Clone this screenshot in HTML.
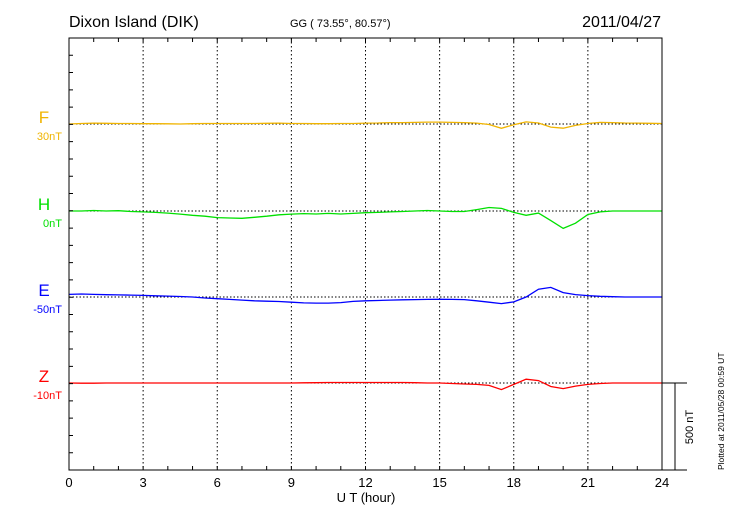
<!DOCTYPE html>
<html><head><meta charset="utf-8"><style>
body{margin:0;background:#fff;}
svg{display:block;font-family:"Liberation Sans",sans-serif;}
</style></head><body>
<svg id="chart" width="730" height="520">
<g id="grid"></g><g id="traces"></g><g id="axes"></g>
<text x="69" y="27" font-size="16">Dixon Island (DIK)</text>
<text x="290" y="27" font-size="11">GG ( 73.55°,  80.57°)</text>
<text x="661" y="27" font-size="16" text-anchor="end">2011/04/27</text>
<text x="366" y="502" font-size="13" text-anchor="middle">U T (hour)</text>
<text transform="translate(693,427) rotate(-90)" font-size="11" text-anchor="middle">500 nT</text>
<text transform="translate(724,470) rotate(-90)" font-size="8.5">Plotted at 2011/05/28 00:59 UT</text>
</svg>
<script>
const hours=[];for(let i=0;i<=48;i++)hours.push(i*0.5);
const xTickLabels=["0","3","6","9","12","15","18","21","24"];
const seriesNames=["F","H","E","Z"];
const offsetLabels=["30nT","0nT","-50nT","-10nT"];
const fValues=[0,3,5,4,3,3,2,2,1,0,2,3,3,3,3,3,4,5,3,3,2,2,3,3,5,6,8,8,9,11,11,9,8,5,-3,-25,-4,12,6,-18,-24,-8,3,9,8,6,5,4,3];
const hValues=[0,0,3,0,2,-3,-5,-8,-12,-18,-25,-30,-38,-40,-42,-36,-30,-22,-18,-15,-17,-14,-17,-14,-10,-8,-5,-3,0,3,0,-3,-3,8,20,15,-8,-25,-12,-55,-100,-70,-20,-5,0,0,0,0,0];
const eValues=[15,17,15,13,12,11,9,7,5,3,0,-6,-10,-14,-18,-22,-24,-26,-30,-34,-35,-35,-32,-25,-22,-20,-18,-16,-15,-14,-13,-14,-15,-22,-30,-38,-28,0,45,55,25,14,8,4,2,0,0,0,0];
const zValues=[0,-1,-1,0,0,0,0,0,0,0,0,0,0,0,0,0,0,0,0,1,2,3,3,3,3,3,3,3,2,0,0,-3,-6,-8,-14,-38,-8,22,14,-20,-32,-18,-8,-3,0,0,0,0,0];
const allSeries=[fValues,hValues,eValues,zValues];
const colors=["#f0b400","#00e000","#0000ff","#ff0000"];
const L=69,R=662,T=38,B=470;
const pxPerNT=(B-383)/500;
const baseY=[124,211,297,383];
const xs=h=>L+(R-L)*h/24;
const ys=(i,v)=>baseY[i]-v*pxPerNT;
const NS="http://www.w3.org/2000/svg";
function mk(p,tag,a){const e=document.createElementNS(NS,tag);for(const k in a)e.setAttribute(k,a[k]);p.appendChild(e);return e;}
const grid=document.getElementById('grid'),tr=document.getElementById('traces'),ax=document.getElementById('axes');
for(let h=3;h<24;h+=3){const l=mk(grid,'line',{x1:xs(h),x2:xs(h),y1:T,y2:B,stroke:'#000','stroke-dasharray':'1.5,2.5','stroke-width':1});

}
baseY.forEach((y,i)=>{const l=mk(grid,'line',{x1:L,x2:R,y1:y,y2:y,stroke:'#000','stroke-dasharray':'1.5,2','stroke-width':1});

});
allSeries.forEach((vals,i)=>{
const pts=vals.map((v,k)=>xs(hours[k]).toFixed(1)+','+ys(i,v).toFixed(1)).join(' ');
const p=mk(tr,'polyline',{points:pts,fill:'none',stroke:colors[i],'stroke-width':1.3});


const t=mk(ax,'text',{x:44,y:baseY[i]-1,'font-size':17,fill:colors[i],'text-anchor':'middle'});t.textContent=seriesNames[i];


const o=mk(ax,'text',{x:62,y:baseY[i]+16,'font-size':11,fill:colors[i],'text-anchor':'end'});o.textContent=offsetLabels[i];

});
const fr=mk(ax,'rect',{x:L,y:T,width:R-L,height:B-T,fill:'none',stroke:'#000','stroke-width':1});


let d='';
for(let h=0;h<=24;h++){const x=xs(h);d+=`M${x},${B}v-4M${x},${T}v4`;}
for(let k=0;k<=25;k++){const y=T+k*(B-T)/25;d+=`M${L},${y}h4`;}
d+=`M${R},${B}H687M${R},383H687M675,383V${B}`;
const tk=mk(ax,'path',{d:d,stroke:'#000','stroke-width':1,fill:'none'});


xTickLabels.forEach((s,i)=>{const t=mk(ax,'text',{x:xs(i*3),y:487,'font-size':13,'text-anchor':'middle'});t.textContent=s;

});
</script>
</body></html>
